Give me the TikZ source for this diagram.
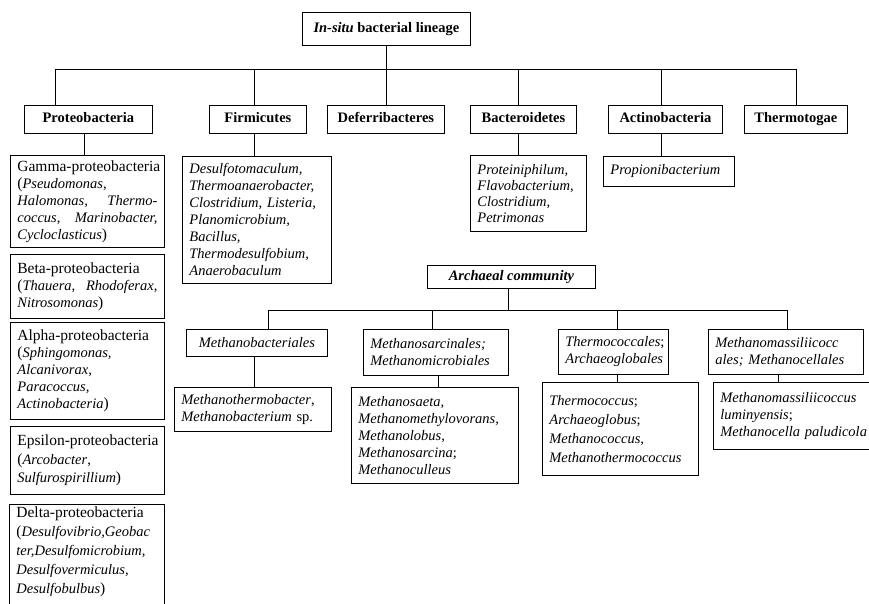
\documentclass[tikz,border=0pt]{standalone}
\usepackage{fontspec}
\setmainfont{Liberation Serif}
\usetikzlibrary{positioning}
\newcommand{\grp}[1]{\mbox{\fontsize{15.5}{17}\selectfont #1}}
\tikzset{
  box/.style={draw,line width=0.8pt,anchor=north west,inner xsep=7pt,inner ysep=2pt,
    font=\fontsize{14.5}{17}\selectfont},
  headbox/.style={box,align=center,text height=10pt,text depth=3pt,
    font=\fontsize{14.5}{17}\selectfont\bfseries},
  listbox/.style={box,align=left},
  genusbox/.style={box,align=left,font=\fontsize{14.5}{17}\selectfont\itshape},
  link/.style={line width=0.8pt}
}

\begin{document}
\begin{tikzpicture}[x=1pt,y=-1pt]
  \useasboundingbox (0,0) rectangle (869,604);
  \clip (0,0) rectangle (869,604);

  % bacterial tree
  \node[headbox,minimum width=168pt,minimum height=33pt] (lineage) at (302,12) {\textit{In-situ} bacterial lineage};
  \node[headbox,minimum width=128pt,minimum height=28pt] (proteo) at (24,105) {Proteobacteria};
  \node[headbox,minimum width=97pt,minimum height=28pt] (firmi) at (209,105) {Firmicutes};
  \node[headbox,minimum width=117pt,minimum height=28pt] (defer) at (327,105) {Deferribacteres};
  \node[headbox,minimum width=106pt,minimum height=28pt] (bactero) at (470,105) {Bacteroidetes};
  \node[headbox,minimum width=114pt,minimum height=28pt] (actino) at (608,105) {Actinobacteria};
  \node[headbox,minimum width=103pt,minimum height=28pt] (thermo) at (744,105) {Thermotogae};

  \node[listbox,text width=140pt,minimum height=92pt] (gamma) at (10,155)
    {\grp{Gamma-proteobacteria}\\\grp{(}\textit{Pseudomonas},\\\textit{Halomonas,}\hfill\textit{Thermo-}\\\textit{coccus},\hfill\textit{Marinobacter,}\\\textit{Cycloclasticus}\grp{)}};
  \node[listbox,text width=140pt,minimum height=64pt] (beta) at (10,254)
    {\grp{Beta-proteobacteria}\\\grp{(}\textit{Thauera,}\hfill\textit{Rhodoferax,}\\\textit{Nitrosomonas}\grp{)}};
  \node[listbox,text width=140pt,minimum height=97pt] (alpha) at (10,322)
    {\grp{Alpha-proteobacteria}\\\grp{(}\textit{Sphingomonas,}\\\textit{Alcanivorax,}\\\textit{Paracoccus,}\\\textit{Actinobacteria}\grp{)}};
  \node[listbox,text width=140pt,minimum height=68pt,font=\fontsize{14.5}{18.5}\selectfont] (epsilon) at (10,426)
    {\grp{Epsilon-proteobacteria}\\\grp{(}\textit{Arcobacter},\\\textit{Sulfurospirillium}\grp{)}};
  \node[listbox,text width=141pt,font=\fontsize{14.5}{19}\selectfont] (delta) at (9,504)
    {\grp{Delta-proteobacteria}\\\grp{(}\textit{Desulfovibrio,Geobac}\\\textit{ter,Desulfomicrobium,}\\\textit{Desulfovermiculus,}\\\textit{Desulfobulbus}\grp{)}\\\mbox{}};

  \node[genusbox,text width=135pt,minimum height=127pt] (firmlist) at (182,156)
    {Desulfotomaculum,\\Thermoanaerobacter,\\Clostridium, Listeria,\\Planomicrobium,\\Bacillus,\\Thermodesulfobium,\\Anaerobaculum};
  \node[genusbox,text width=102pt,minimum height=76pt,font=\fontsize{14.5}{16}\selectfont\itshape] (bactlist) at (470,155)
    {Proteiniphilum,\\Flavobacterium,\\Clostridium,\\Petrimonas};
  \node[genusbox,text width=117pt,minimum height=30pt] (actilist) at (603,156)
    {Propionibacterium};

  \draw[link] (lineage.south) -- (lineage.south |- defer.north);
  \coordinate (busL) at (55,69);
  \coordinate (busR) at (796,69);
  \draw[link] (busL) -- (busR);
  \draw[link] (busL) -- (busL |- proteo.north);
  \draw[link] ([xshift=-4pt]firmi.north) -- ([xshift=-4pt]firmi.north |- busL);
  \draw[link] ([xshift=-5pt]bactero.north) -- ([xshift=-5pt]bactero.north |- busL);
  \draw[link] ([xshift=-4pt]actino.north) -- ([xshift=-4pt]actino.north |- busL);
  \draw[link] (busR) -- (busR |- thermo.north);
  \draw[link] ([xshift=-4pt]proteo.south) -- ([xshift=-4pt]proteo.south |- gamma.north);
  \draw[link] ([xshift=-4pt]firmi.south) -- ([xshift=-4pt]firmi.south |- firmlist.north);
  \draw[link] ([xshift=-5pt]bactero.south) -- ([xshift=-5pt]bactero.south |- bactlist.north);
  \draw[link] ([xshift=-4pt]actino.south) -- ([xshift=-4pt]actino.south |- actilist.north);

  % archaeal tree
  \node[headbox,minimum width=168pt,minimum height=23pt,inner ysep=0pt] (archaea) at (427,265) {\textit{Archaeal community}};
  \node[genusbox,align=center,minimum width=141pt,minimum height=27pt,inner ysep=0pt] (mbact) at (186,329) {Methanobacteriales};
  \node[genusbox,text width=131pt,minimum height=46pt] (msarc) at (363,329) {Methanosarcinales;\\Methanomicrobiales};
  \node[listbox,text width=96pt,minimum height=45pt] (tcocc) at (558,329) {\textit{Thermococcales};\\\textit{Archaeoglobales}};
  \node[genusbox,text width=141pt,minimum height=45pt] (mmass) at (708,329) {Methanomassiliicocc\\ales; Methanocellales};

  \node[listbox,text width=143pt,minimum height=44pt] (mbactlist) at (174,387)
    {\textit{Methanothermobacter},\\\textit{Methanobacterium} sp.};
  \node[listbox,text width=153pt,minimum height=96pt] (msarclist) at (351,387)
    {\textit{Methanosaeta,}\\\textit{Methanomethylovorans,}\\\textit{Methanolobus,}\\\textit{Methanosarcina};\\\textit{Methanoculleus}};
  \node[listbox,text width=142pt,minimum height=93pt,font=\fontsize{14.5}{19}\selectfont] (tcocclist) at (542,382)
    {\textit{Thermococcus};\\\textit{Archaeoglobus};\\\textit{Methanococcus},\\\textit{Methanothermococcus}};
  \node[listbox,text width=160pt,minimum height=67pt] (mmasslist) at (713,382)
    {\textit{Methanomassiliicoccus}\\\textit{luminyensis};\\\textit{Methanocella paludicola}};

  \coordinate (abusL) at (268,310);
  \coordinate (abusR) at (787,310);
  \draw[link] ([xshift=-3pt]archaea.south) -- ([xshift=-3pt]archaea.south |- abusL);
  \draw[link] (abusL) -- (abusR);
  \draw[link] (abusL) -- (abusL |- mbact.north);
  \draw[link] ([xshift=-4pt]msarc.north) -- ([xshift=-4pt]msarc.north |- abusL);
  \draw[link] ([xshift=4pt]tcocc.north) -- ([xshift=4pt]tcocc.north |- abusL);
  \draw[link] (abusR) -- (abusR |- mmass.north);
  \draw[link] ([xshift=-3pt]mbact.south) -- ([xshift=-3pt]mbact.south |- mbactlist.north);
  \draw[link] ([xshift=2pt]msarc.south) -- ([xshift=2pt]msarc.south |- msarclist.north);
  \draw[link] ([xshift=4pt]tcocc.south) -- ([xshift=4pt]tcocc.south |- tcocclist.north);
  \draw[link] ([xshift=-8pt]mmass.south) -- ([xshift=-8pt]mmass.south |- mmasslist.north);
\end{tikzpicture}
\end{document}
